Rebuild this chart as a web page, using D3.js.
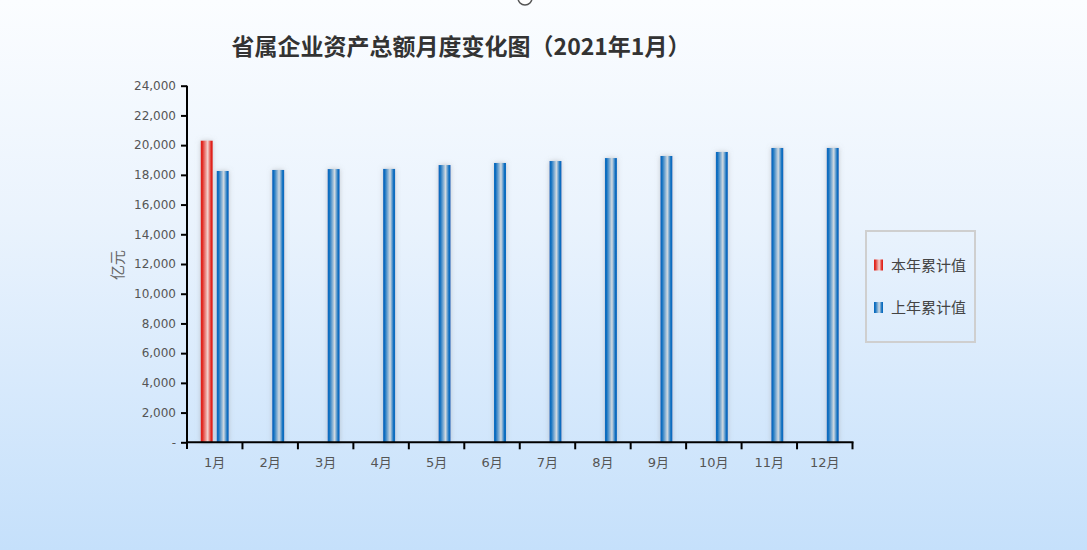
<!DOCTYPE html>
<html><head><meta charset="utf-8">
<script src="https://cdn.jsdelivr.net/npm/d3@7/dist/d3.min.js"></script>
<style>
html,body{margin:0;padding:0;overflow:hidden;}
body{width:1087px;height:550px;background:linear-gradient(to bottom,#fbfdff 0%,#eaf3fd 40%,#c5e0fb 100%);}
svg{display:block;}
</style></head>
<body>
<script>
const months = ["1月","2月","3月","4月","5月","6月","7月","8月","9月","10月","11月","12月"];
const seriesNames = ["本年累计值","上年累计值"];
const thisYear = [20300, null, null, null, null, null, null, null, null, null, null, null];
const lastYear = [18260, 18330, 18390, 18400, 18660, 18800, 18930, 19130, 19270, 19540, 19810, 19810];
const yTicks = [0,2000,4000,6000,8000,10000,12000,14000,16000,18000,20000,22000,24000];
const titleText = "省属企业资产总额月度变化图（2021年1月）";
const yLabel = "亿元";

const W = 1087, H = 550;
const svg = d3.select("body").append("svg").attr("width", W).attr("height", H);
const defs = svg.append("defs");

function grad(id, dark, light){
  const g = defs.append("linearGradient").attr("id", id).attr("x1","0%").attr("x2","100%").attr("y1","0%").attr("y2","0%");
  g.append("stop").attr("offset","0%").attr("stop-color",dark);
  g.append("stop").attr("offset","12%").attr("stop-color",dark);
  g.append("stop").attr("offset","58%").attr("stop-color",light);
  g.append("stop").attr("offset","88%").attr("stop-color",dark);
  g.append("stop").attr("offset","100%").attr("stop-color",dark);
}
grad("gRed", "#e0241c", "#f3d4d0");
grad("gBlue", "#0a6cbf", "#d2dae0");
const f = defs.append("filter").attr("id","glow").attr("x","-60%").attr("y","-10%").attr("width","220%").attr("height","120%");
f.append("feDropShadow").attr("dx",0).attr("dy",0).attr("stdDeviation",2.5).attr("flood-color","#999").attr("flood-opacity",0.5);

// top circle fragment
svg.append("circle").attr("cx",525).attr("cy",-2).attr("r",7).attr("fill","#fff").attr("stroke","#555").attr("stroke-width",1.5);

const x0 = d3.scaleBand().domain(months).range([187, 852.5]).padding(0);
const bw = x0.bandwidth();
const x1 = d3.scaleBand().domain(seriesNames).range([bw/2 - 14, bw/2 + 14]).paddingInner(0.25).paddingOuter(0);
const y = d3.scaleLinear().domain([0, 24000]).range([442.3, 85.7]);

// title
svg.append("text").attr("x", 461).attr("y", 55).attr("text-anchor","middle")
  .attr("font-family","'Noto Sans CJK SC', sans-serif").attr("font-weight","bold").attr("font-size",23)
  .attr("fill","#333").text(titleText);

// bars
const data = months.map((m,i)=>({m, vals:[{s:seriesNames[0], v:thisYear[i], g:"gRed"},{s:seriesNames[1], v:lastYear[i], g:"gBlue"}]}));
const groups = svg.append("g").selectAll("g").data(data).join("g").attr("transform", d=>`translate(${x0(d.m)},0)`);
groups.selectAll("rect").data(d=>d.vals.filter(v=>v.v!=null)).join("rect")
  .attr("x", d=>x1(d.s)).attr("width", x1.bandwidth())
  .attr("y", d=>y(d.v)).attr("height", d=>y(0)-y(d.v))
  .attr("fill", d=>`url(#${d.g})`).attr("filter","url(#glow)");

// y axis
const fmt = d3.format(",");
const yAxis = d3.axisLeft(y).tickValues(yTicks).tickSize(6).tickPadding(5).tickFormat(d=> d===0 ? "-" : fmt(d));
const yg = svg.append("g").attr("transform","translate(187,0)").call(yAxis);
yg.select(".domain").remove();
yg.append("line").attr("x1",0).attr("x2",0).attr("y1",85.7).attr("y2",449).attr("stroke","#000").attr("stroke-width",2);
yg.selectAll(".tick line").attr("stroke","#000").attr("stroke-width",2);
yg.selectAll(".tick text").attr("font-family","'DejaVu Sans', sans-serif").attr("font-size",12).attr("fill","#555");

// x axis
const xg = svg.append("g").attr("transform","translate(0,442.3)");
xg.append("line").attr("x1",186).attr("x2",853.5).attr("y1",0).attr("y2",0).attr("stroke","#000").attr("stroke-width",2);
xg.selectAll("line.tk").data(months.slice(1).map(m=>x0(m)).concat([852.5])).join("line").attr("class","tk")
  .attr("x1",d=>d).attr("x2",d=>d).attr("y1",0).attr("y2",7).attr("stroke","#000").attr("stroke-width",2);
xg.selectAll("text").data(months).join("text")
  .attr("x", m=>x0(m)+bw/2).attr("y", 25).attr("text-anchor","middle")
  .attr("font-family","'DejaVu Sans', 'Noto Sans CJK SC', sans-serif").attr("font-size",13).attr("fill","#555").text(m=>m);

// y label
svg.append("text").attr("transform","translate(123,265) rotate(-90)").attr("text-anchor","middle")
  .attr("font-family","'Noto Sans CJK SC', sans-serif").attr("font-size",15).attr("fill","#666").text(yLabel);

// legend
const lg = svg.append("g");
lg.append("rect").attr("x",866).attr("y",231).attr("width",109).attr("height",111).attr("fill","none").attr("stroke","#cfcfcf").attr("stroke-width",2);
const items = [{n:seriesNames[0], g:"gRed"},{n:seriesNames[1], g:"gBlue"}];
items.forEach((it,i)=>{
  const cy = 265 + i*42.5;
  lg.append("rect").attr("x",874).attr("y",cy-5.5).attr("width",9).attr("height",11).attr("fill",`url(#${it.g})`);
  lg.append("text").attr("x",891).attr("y",cy+5.5).attr("font-family","'Noto Sans CJK SC', sans-serif").attr("font-size",15).attr("fill","#444").text(it.n);
});
</script>
</body></html>
